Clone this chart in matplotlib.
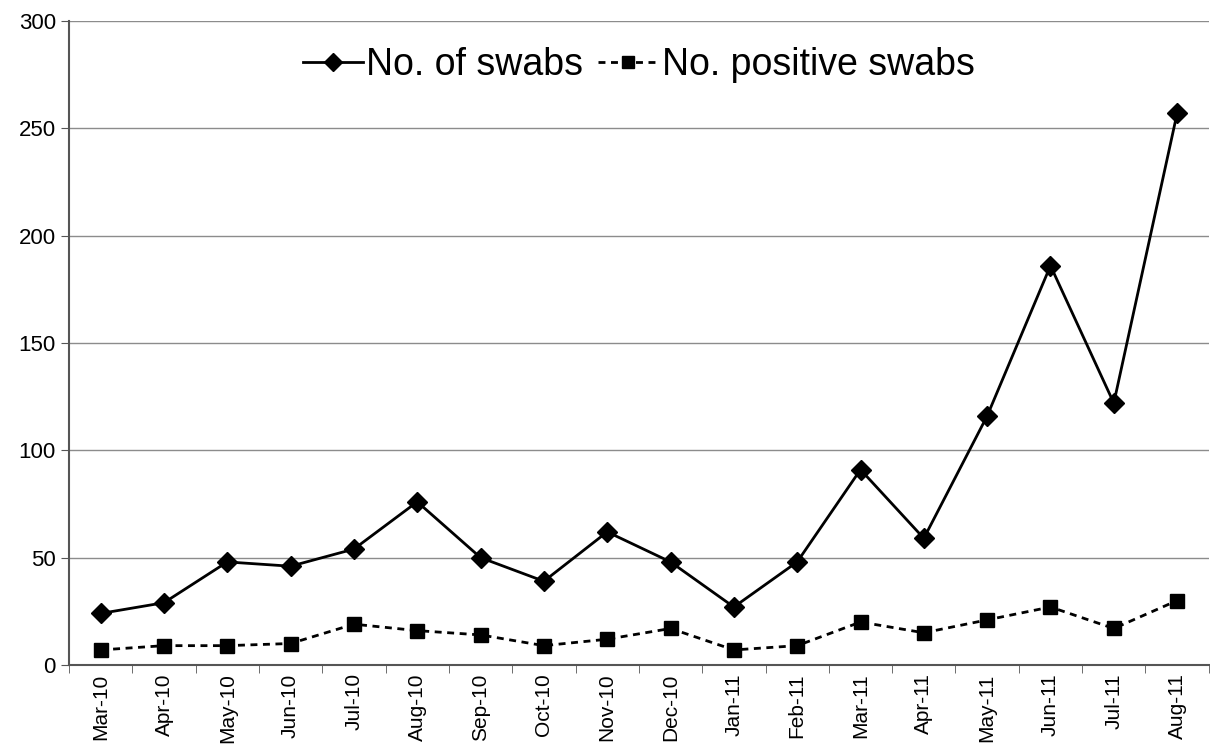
import numpy as np
import matplotlib.pyplot as plt

plt.rcParams['font.family'] = ['Liberation Sans', 'DejaVu Sans']

months = ["Mar-10", "Apr-10", "May-10", "Jun-10", "Jul-10", "Aug-10", "Sep-10",
          "Oct-10", "Nov-10", "Dec-10", "Jan-11", "Feb-11", "Mar-11", "Apr-11",
          "May-11", "Jun-11", "Jul-11", "Aug-11"]
swabs = [24, 29, 48, 46, 54, 76, 50, 39, 62, 48, 27, 48, 91, 59, 116, 186, 122, 257]
positive = [7, 9, 9, 10, 19, 16, 14, 9, 12, 17, 7, 9, 20, 15, 21, 27, 17, 30]

fig = plt.figure(figsize=(12.1, 7.48), dpi=100)
ax = fig.add_axes([0.057, 0.111, 0.942, 0.861])

x = np.arange(len(months))
ax.plot(x, swabs, color="black", lw=2, marker="D", markersize=10, label="No. of swabs")
ax.plot(x, positive, color="black", lw=2, ls=(0, (2.5, 2)), marker="s", markersize=9.5,
        label="No. positive swabs")

ax.set_xlim(-0.5, len(months) - 0.5)
ax.set_ylim(0, 300)
ax.set_yticks(range(0, 301, 50))
ax.yaxis.grid(True, color="#8c8c8c", lw=1)
ax.set_axisbelow(True)

ax.set_xticks(x)
ax.set_xticklabels(months, rotation=90, fontsize=15)
ax.set_xticks(np.arange(-0.5, len(months), 1), minor=True)
ax.tick_params(axis="x", which="major", length=0, pad=6)
ax.tick_params(axis="x", which="minor", length=6, color="#555555")
ax.tick_params(axis="y", labelsize=16, length=6, color="#555555")

for s in ["top", "right"]:
    ax.spines[s].set_visible(False)
for s in ["left", "bottom"]:
    ax.spines[s].set_color("#555555")
    ax.spines[s].set_linewidth(1.5)

ax.legend(loc="upper center", bbox_to_anchor=(0.5, 0.995), ncol=2, frameon=False,
          fontsize=27, handlelength=1.6, handletextpad=0.1, columnspacing=0.4,
          borderaxespad=0.2, markerscale=0.9)

fig.savefig("out.png", dpi=100)
